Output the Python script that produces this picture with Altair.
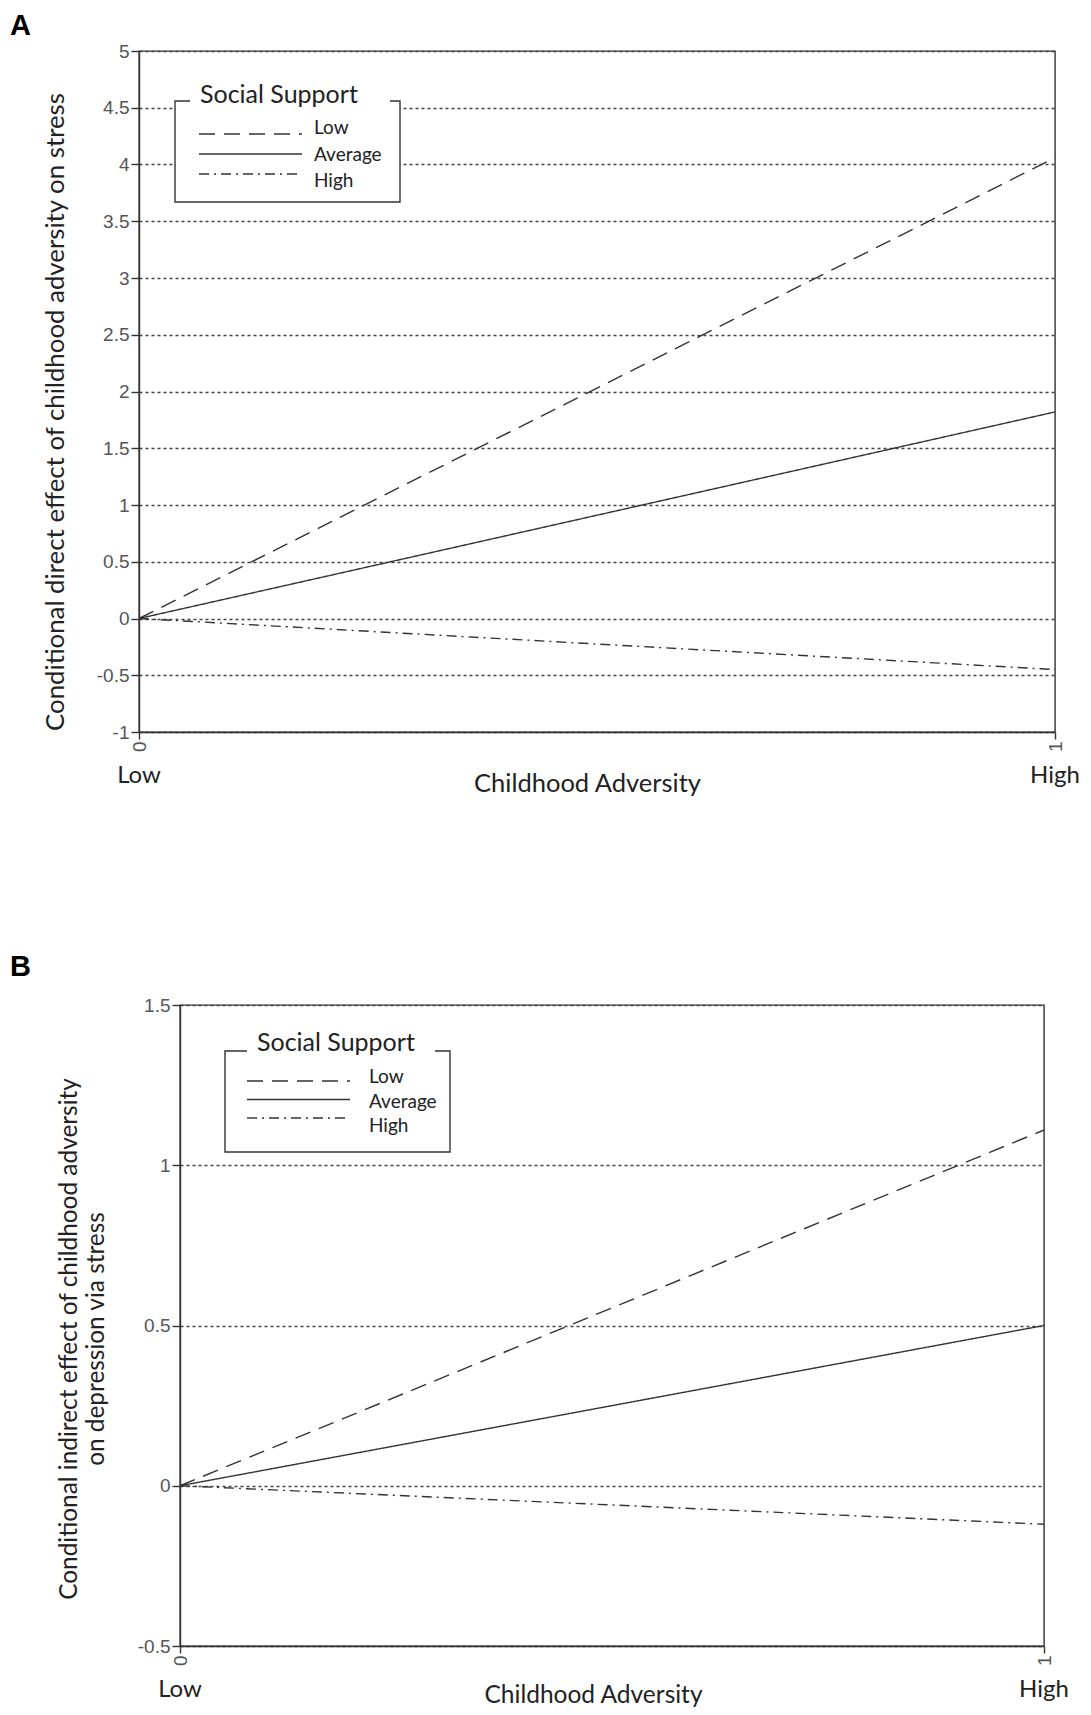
import altair as alt
import pandas as pd

# ---------------- data ----------------
x_vals = [0, 1]
series = ["Low", "Average", "High"]
x_end_labels = ["Low", "High"]

a_low = [0.0, 4.06]
a_avg = [0.0, 1.82]
a_high = [0.0, -0.45]
a_ticks = [-1, -0.5, 0, 0.5, 1, 1.5, 2, 2.5, 3, 3.5, 4, 4.5, 5]

b_low = [0.0, 1.11]
b_avg = [0.0, 0.50]
b_high = [0.0, -0.12]
b_ticks = [-0.5, 0, 0.5, 1, 1.5]

a_ytitle = "Conditional direct effect of childhood adversity on stress"
b_ytitle = ["Conditional indirect effect of childhood adversity", "on depression via stress"]
x_title = "Childhood Adversity"
legend_title = "Social Support"

# ---------------- styles ----------------
INK = "#333333"
DASHES = [[16, 9], [1, 0], [10, 5, 2, 5]]
TXT_FONT = "Lato"
NUM_FONT = "Liberation Sans"


def spacer():
    return alt.Chart(pd.DataFrame({"v": [0]})).mark_rect(opacity=0).encode(
        x=alt.value(0), x2=alt.value(1), y=alt.value(0), y2=alt.value(1)
    ).properties(width=1, height=1, view=alt.ViewBackground(stroke="transparent", strokeWidth=0))


def panel(letter, low, avg, high, ticks, ytitle, W, H, L, letter_pos):
    df = pd.DataFrame({
        "x": x_vals * 3,
        "y": low + avg + high,
        "s": [series[0]] * 2 + [series[1]] * 2 + [series[2]] * 2,
    })
    xs = alt.Scale(domain=[0, 1], nice=False, zero=False)
    ys = alt.Scale(domain=[ticks[0], ticks[-1]], nice=False, zero=False)
    dash_scale = alt.Scale(domain=series, range=DASHES)

    lines = alt.Chart(df).mark_line(color=INK, strokeWidth=1.4).encode(
        x=alt.X("x:Q", scale=xs, axis=alt.Axis(
            values=[0, 1], format="d", labelAngle=270, title=x_title,
            grid=False, tickSize=7, labelPadding=2, titlePadding=L["xtp"],
            titleFontSize=L["xfs"], titleX=W / 2 + L["xdx"],
        )),
        y=alt.Y("y:Q", scale=ys, axis=alt.Axis(
            values=ticks, labelExpr="'' + datum.value",
            grid=True, gridDash=[3, 3], gridColor="#444444",
            gridWidth=1.4, tickSize=8, labelPadding=2, title=ytitle,
            titlePadding=L["ytp"], titleFontSize=L["yfs"], titleY=H / 2 + L["ydy"],
        )),
        strokeDash=alt.StrokeDash("s:N", scale=dash_scale, legend=None),
    )

    ends = alt.Chart(pd.DataFrame({"x": x_vals, "t": x_end_labels})).mark_text(
        font=TXT_FONT, fontSize=24, color="#222222", baseline="middle"
    ).encode(
        x=alt.X("x:Q", scale=xs),
        y=alt.value(H + 44),
        text="t:N",
    )

    one = pd.DataFrame({"t": [legend_title]})
    box = alt.Chart(one).mark_rect(fill="white", stroke=INK, strokeWidth=1.4).encode(
        x=alt.value(L["bx0"]), x2=alt.value(L["bx1"]),
        y=alt.value(L["by0"]), y2=alt.value(L["by1"]),
    )
    cover = alt.Chart(one).mark_rect(fill="white").encode(
        x=alt.value(L["gx0"]), x2=alt.value(L["gx1"]),
        y=alt.value(L["by0"] - 4), y2=alt.value(L["by0"] + 4),
    )
    ttl = alt.Chart(one).mark_text(
        font=TXT_FONT, fontSize=25, color="#222222", align="left", baseline="middle"
    ).encode(x=alt.value(L["tx"]), y=alt.value(L["ty"]), text="t:N")

    leg = pd.DataFrame({"s": series})
    leg_rules = alt.Chart(leg).mark_rule(color=INK, strokeWidth=1.4).encode(
        x=alt.value(L["sx0"]), x2=alt.value(L["sx1"]),
        y=alt.Y("s:N", scale=alt.Scale(type="point", domain=series, range=L["sy"], padding=0),
                axis=None),
        strokeDash=alt.StrokeDash("s:N", scale=dash_scale, legend=None),
    )
    leg_text = alt.Chart(leg).mark_text(
        font=TXT_FONT, fontSize=19, color="#222222", align="left", baseline="middle"
    ).encode(
        x=alt.value(L["lx"]),
        y=alt.Y("s:N", scale=alt.Scale(type="point", domain=series, range=L["ly"], padding=0),
                axis=None),
        text="s:N",
    )

    let = alt.Chart(pd.DataFrame({"t": [letter]})).mark_text(
        font=NUM_FONT, fontSize=29, fontWeight="bold", color="black",
        align="left", baseline="top"
    ).encode(x=alt.value(letter_pos[0]), y=alt.value(letter_pos[1]), text="t:N")

    layered = alt.layer(lines, ends, box, cover, ttl, leg_rules, leg_text, let).resolve_scale(
        y="independent"
    ).properties(width=W, height=H)
    # a tiny invisible spacer gives each panel its own left offset
    return alt.hconcat(spacer(), layered, spacing=0)


LA = dict(xtp=20, ytp=28, xfs=25.5, yfs=25.8, xdx=-10, ydy=20,
          bx0=36, bx1=261, by0=50, by1=151, gx0=51, gx1=251,
          tx=61, ty=44, sx0=60, sx1=163, sy=[83, 123], lx=175, ly=[77, 130])
LB = dict(xtp=18, ytp=29, xfs=24.5, yfs=24.4, xdx=-19, ydy=13,
          bx0=45, bx1=270, by0=46, by1=147, gx0=67, gx1=255,
          tx=77, ty=38, sx0=67, sx1=170, sy=[76, 113], lx=189, ly=[72, 121])

A = panel("A", a_low, a_avg, a_high, a_ticks, a_ytitle, 916, 681, LA, (-129, -39))
B = panel("B", b_low, b_avg, b_high, b_ticks, b_ytitle, 864, 641, LB, (-170, -52))

chart = alt.vconcat(A, B, spacing=154).properties(
    padding={"left": 0, "top": 3, "right": 0, "bottom": 0}, background="white"
).configure_view(stroke=INK, strokeWidth=1.4).configure_axis(
    domainColor=INK, domainWidth=1.4, tickColor=INK, tickWidth=1.4,
    labelFont=NUM_FONT, labelFontSize=19, labelColor="#555555",
    titleFont=TXT_FONT, titleFontWeight="normal", titleColor="#222222",
    titleLineHeight=27,
)

chart.save("out.html", embed_options={"renderer": "svg", "actions": False})
